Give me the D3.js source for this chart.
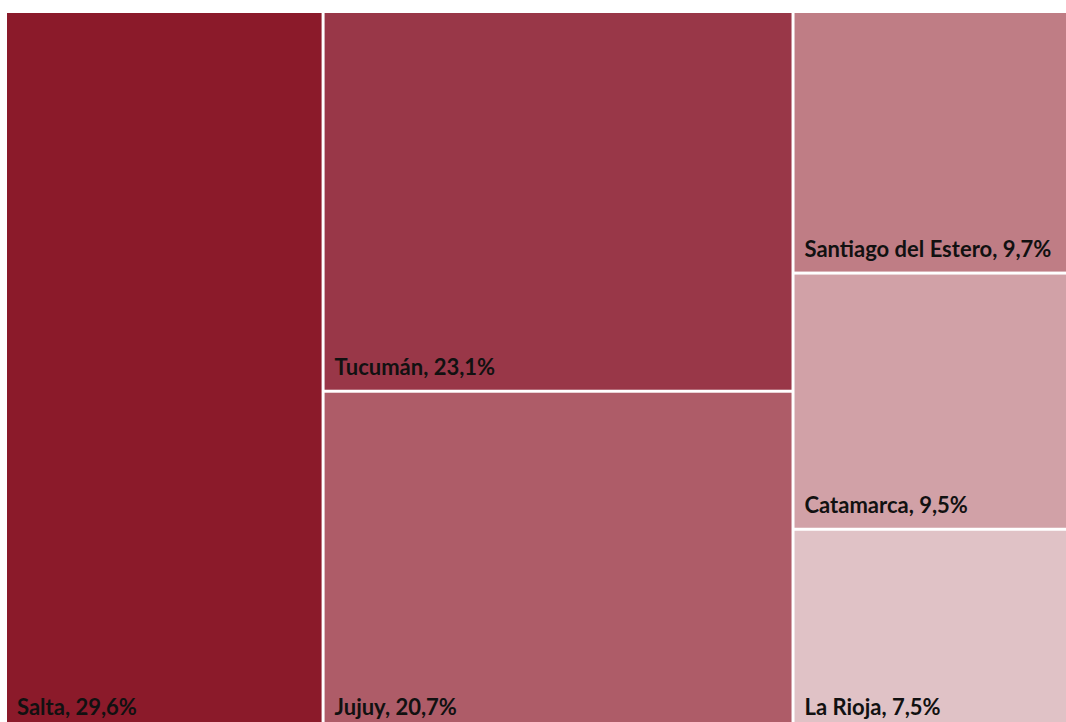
<!DOCTYPE html>
<html>
<head>
<meta charset="utf-8">
<script src="https://cdn.jsdelivr.net/npm/d3@7"></script>
<style>
  body { margin: 0; background: #fff; }
  svg { display: block; }
</style>
</head>
<body>
<div id="chart"></div>
<script>
// <-- ************ DATA ************ -->
const PROVINCES = ["Salta", "Tucumán", "Jujuy", "Santiago del Estero", "Catamarca", "La Rioja"];
const SHARES = [29.6, 23.1, 20.7, 9.7, 9.5, 7.5];
const COLUMNS = [0, 1, 1, 2, 2, 2];   // which column each province sits in
const COLORS = ["#8b1a2a", "#993748", "#ae5c68", "#bf7d85", "#d1a1a7", "#e0c2c6"];

// <-- ************ GLOBAL CONSTANTS ************ -->
const FRAME_WIDTH = 1066;
const FRAME_HEIGHT = 722;
// treemap box runs past the right and bottom edges (cropped like the source)
const BOX = {left: 7, top: 13, right: 1078, bottom: 730};

const SVG = d3.select("#chart")
  .append("svg")
  .attr("width", FRAME_WIDTH)
  .attr("height", FRAME_HEIGHT);

// build hierarchy: root -> columns -> provinces
const colIds = Array.from(new Set(COLUMNS));
const tree = {
  name: "root",
  children: colIds.map((c) => ({
    name: "col" + c,
    children: PROVINCES.map((p, i) => ({name: p, value: SHARES[i], idx: i}))
                       .filter((d) => COLUMNS[d.idx] === c)
  }))
};

const root = d3.hierarchy(tree).sum((d) => d.value || 0);

d3.treemap()
  .tile(d3.treemapSliceDice)
  .size([BOX.right - BOX.left, BOX.bottom - BOX.top])
  .paddingInner(3)
  (root);

const fmt = (v) => d3.format(".1f")(v).replace(".", ",") + "%";

const cells = SVG.append("g")
  .attr("transform", "translate(" + BOX.left + "," + BOX.top + ")")
  .selectAll("g")
  .data(root.leaves())
  .enter()
  .append("g");

cells.append("rect")
  .attr("x", (d) => d.x0)
  .attr("y", (d) => d.y0)
  .attr("width", (d) => d.x1 - d.x0)
  .attr("height", (d) => d.y1 - d.y0)
  .attr("fill", (d) => COLORS[d.data.idx]);

cells.append("text")
  .attr("x", (d) => d.x0 + 10)
  .attr("y", (d) => d.y1 - 15)
  .attr("font-family", "Lato, 'Open Sans', sans-serif")
  .attr("font-weight", "bold")
  .attr("font-size", "22px")
  .attr("fill", "#111")
  .text((d) => d.data.name + ", " + fmt(d.data.value));
</script>
</body>
</html>
